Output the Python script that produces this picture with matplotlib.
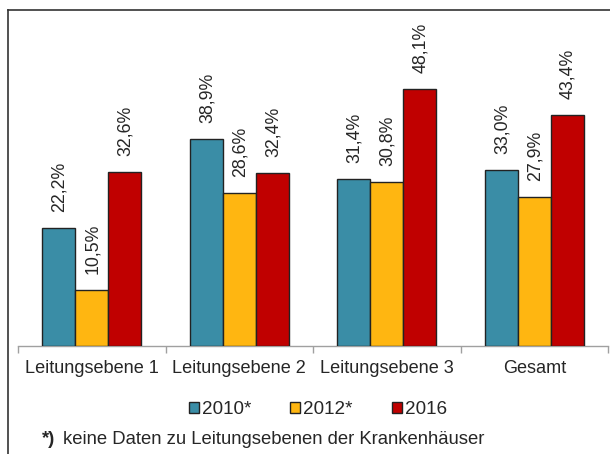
import matplotlib
matplotlib.use("Agg")
import matplotlib.pyplot as plt
import numpy as np
from matplotlib.patches import Patch
from matplotlib.lines import Line2D

plt.rcParams['font.family'] = ['Liberation Sans', 'DejaVu Sans']

categories = ["Leitungsebene 1", "Leitungsebene 2", "Leitungsebene 3", "Gesamt"]
series_names = ["2010*", "2012*", "2016"]
values_2010 = [22.2, 38.9, 31.4, 33.0]
values_2012 = [10.5, 28.6, 30.8, 27.9]
values_2016 = [32.6, 32.4, 48.1, 43.4]
colors = ["#3A8DA6", "#FFB611", "#C00000"]
footnote_mark = "*)"
footnote_text = "keine Daten zu Leitungsebenen der Krankenhäuser"

TEXT = "#262626"
W, H = 610, 454
fig = plt.figure(figsize=(W / 100, H / 100), dpi=100)
ax = fig.add_axes([18 / W, 1 - 346 / H, 590 / W, 336 / H])

x = np.arange(len(categories))
bw = 0.224
series = [values_2010, values_2012, values_2016]
for i, (vals, col) in enumerate(zip(series, colors)):
    pos = x + (i - 1) * bw
    ax.bar(pos, vals, width=bw, color=col, edgecolor="#222222", linewidth=1.0, zorder=3)
    for xp, v in zip(pos, vals):
        ax.annotate(f"{v:.1f}%".replace(".", ","), xy=(xp, v), xytext=(0.5, 11.5),
                    textcoords="offset points", rotation=90, ha="center", va="bottom",
                    fontsize=12.8, color=TEXT)

ax.set_xlim(-0.5, len(categories) - 0.5)
ax.set_ylim(0, 63)
ax.set_yticks([])
for s in ("left", "right", "top"):
    ax.spines[s].set_visible(False)
ax.spines["bottom"].set_color("#A0A0A0")
ax.spines["bottom"].set_linewidth(1.0)

ax.set_xticks(x)
ax.set_xticklabels(categories, fontsize=13.1, color=TEXT)
ax.tick_params(axis="x", which="major", length=0, pad=10)
ax.set_xticks(np.arange(-0.5, len(categories)), minor=True)
ax.tick_params(axis="x", which="minor", length=5, color="#A0A0A0", width=1.0)

handles = [Patch(facecolor=c, edgecolor="#222222", linewidth=1.0) for c in colors]
leg = fig.legend(handles, series_names, loc="center", bbox_to_anchor=(318 / W, 1 - 410 / H),
                 ncol=3, frameon=False, fontsize=13.6, handlelength=0.53, handleheight=0.53,
                 handletextpad=0.16, columnspacing=2.05, borderaxespad=0)
for t in leg.get_texts():
    t.set_color(TEXT)

fig.text(42 / W, 1 - 440 / H, footnote_mark, fontsize=13.3, fontweight="bold",
         ha="left", va="center", color=TEXT)
fig.text(63 / W, 1 - 440 / H, footnote_text, fontsize=13.3, ha="left", va="center",
         color=TEXT)

# outer frame (top and left edges)
fig.add_artist(Line2D([8 / W, 8 / W], [0, 1 - 10 / H], color="#333333", linewidth=1.2))
fig.add_artist(Line2D([8 / W, 1], [1 - 10 / H, 1 - 10 / H], color="#333333", linewidth=1.2))

fig.savefig("out.png", dpi=100)
